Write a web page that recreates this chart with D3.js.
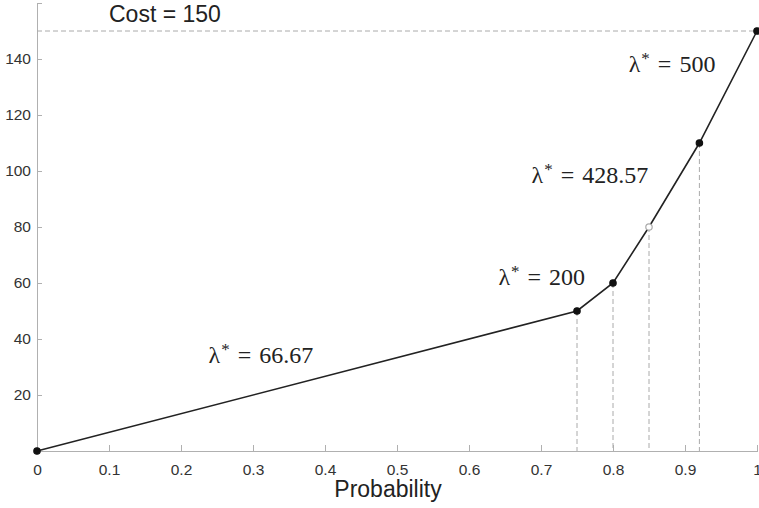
<!DOCTYPE html>
<html lang="en">
<head>
<meta charset="utf-8">
<title>Cost vs probability</title>
<script src="https://d3js.org/d3.v7.min.js"></script>
<style>
  body { margin: 0; background: #fff; }
  svg { font-family: "Liberation Sans", Arial, sans-serif; }
  .axis path, .axis line { stroke: #b0b0b0; fill: none; shape-rendering: crispEdges; }
  .axis text { fill: #333; font-size: 15.5px; }
  .lam { font-family: "Liberation Serif", "DejaVu Serif", serif; font-size: 24px; fill: #222; }
</style>
</head>
<body>
<div id="chart"></div>
<script>
// piecewise cost curve (probability, cost)
var probs = [0, 0.75, 0.8, 0.85, 0.92, 1];
var costs = [0, 50, 60, 80, 110, 150];
var openPoint = [false, false, false, true, false, false];
var dropProbs = [0.75, 0.8, 0.85, 0.92];
var dropCosts = [50, 60, 80, 110];
var costCap = 150;
var xTicks = [0, 0.1, 0.2, 0.3, 0.4, 0.5, 0.6, 0.7, 0.8, 0.9, 1];
var yTicks = [20, 40, 60, 80, 100, 120, 140];
var lambdaLabels = ["66.67", "200", "428.57", "500"];
var lambdaAt = [[0.311, 31.4], [0.701, 59.3], [0.768, 95.7], [0.882, 135.4]];

var W = 759, H = 508;
var margin = {top: 3, right: 2, bottom: 57, left: 37};

var svg = d3.select("#chart").append("svg")
    .attr("width", W).attr("height", H);

var x = d3.scaleLinear().domain([0, 1]).range([margin.left, W - margin.right]);
var y = d3.scaleLinear().domain([0, 160]).range([H - margin.bottom, margin.top]);

// axes, ticks pointing inward
svg.append("g").attr("class", "axis")
    .attr("transform", "translate(0," + y(0) + ")")
    .call(d3.axisBottom(x).tickValues(xTicks).tickSize(-6).tickPadding(13)
        .tickFormat(function(d) { return d === 1 ? "1" : d === 0 ? "0" : d3.format(".1f")(d); }));
svg.append("g").attr("class", "axis")
    .attr("transform", "translate(" + x(0) + ",0)")
    .call(d3.axisLeft(y).tickValues(yTicks).tickSize(-5).tickPadding(6));

// cap line
svg.append("line")
    .attr("x1", x(0)).attr("x2", x(1))
    .attr("y1", y(costCap)).attr("y2", y(costCap))
    .attr("stroke", "#aaa").attr("stroke-width", 1).attr("stroke-dasharray", "5,3");

// vertical drop lines
svg.selectAll(".drop").data(dropProbs).enter().append("line")
    .attr("class", "drop")
    .attr("x1", function(d) { return x(d); }).attr("x2", function(d) { return x(d); })
    .attr("y1", function(d, i) { return y(dropCosts[i]); }).attr("y2", y(0))
    .attr("stroke", "#aaa").attr("stroke-width", 1).attr("stroke-dasharray", "5,3");

var pts = probs.map(function(p, i) { return [p, costs[i]]; });
svg.append("path")
    .datum(pts)
    .attr("fill", "none").attr("stroke", "#222").attr("stroke-width", 1.6)
    .attr("d", d3.line().x(function(d) { return x(d[0]); }).y(function(d) { return y(d[1]); }));

svg.selectAll(".pt").data(pts).enter().append("circle")
    .attr("class", "pt")
    .attr("cx", function(d) { return x(d[0]); })
    .attr("cy", function(d) { return y(d[1]); })
    .attr("r", 3.2)
    .attr("fill", function(d, i) { return openPoint[i] ? "#fff" : "#111"; })
    .attr("stroke", function(d, i) { return openPoint[i] ? "#aaa" : "#111"; })
    .attr("stroke-width", 1.2);

// labels
svg.append("text")
    .attr("x", 109).attr("y", 22)
    .style("font-size", "23px").style("fill", "#222")
    .text("Cost = 150");

svg.append("text")
    .attr("x", 388).attr("y", 497)
    .attr("text-anchor", "middle")
    .style("font-size", "23px").style("fill", "#222")
    .text("Probability");

var lam = svg.selectAll(".lam").data(lambdaLabels).enter().append("text")
    .attr("class", "lam")
    .attr("text-anchor", "middle")
    .attr("x", function(d, i) { return x(lambdaAt[i][0]); })
    .attr("y", function(d, i) { return y(lambdaAt[i][1]); });
lam.append("tspan").text("\u03bb");
lam.append("tspan").attr("dy", -8).attr("dx", 1).style("font-size", "17px").text("*");
lam.append("tspan").attr("dy", 8).attr("dx", 8).text("=");
lam.append("tspan").attr("dx", 8).text(function(d) { return d; });
</script>
</body>
</html>
